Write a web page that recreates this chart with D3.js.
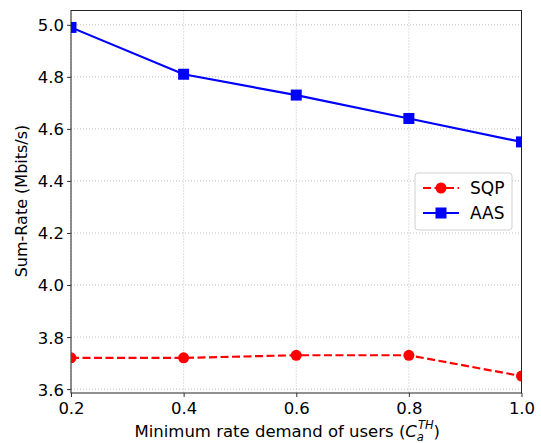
<!DOCTYPE html>
<html>
<head>
<meta charset="utf-8">
<script src="https://cdn.jsdelivr.net/npm/d3@7"></script>
<style>
  body { margin: 0; background: #fff; }
  text { font-family: "DejaVu Sans", sans-serif; fill: #000; }
</style>
</head>
<body>
<svg id="chart" width="541" height="443"></svg>
<script>
// chart data
var xValues = [0.2, 0.4, 0.6, 0.8, 1.0];
var sqp = [3.72, 3.72, 3.73, 3.73, 3.65];
var aas = [4.99, 4.81, 4.73, 4.64, 4.55];
var xTicks = [0.2, 0.4, 0.6, 0.8, 1.0];
var yTicks = [3.6, 3.8, 4.0, 4.2, 4.4, 4.6, 4.8, 5.0];

var svg = d3.select("#chart");
var pLeft = 71, pRight = 521.5, pTop = 10.5, pBottom = 393;

var x = d3.scaleLinear().domain([0.2, 1.0]).range([pLeft, pRight]);
var y = d3.scaleLinear().domain([3.585, 5.055]).range([pBottom, pTop]);

// grid
var grid = svg.append("g");
grid.selectAll(".gx").data(xTicks).enter().append("line")
  .attr("x1", function(d){ return x(d); }).attr("x2", function(d){ return x(d); })
  .attr("y1", pTop).attr("y2", pBottom)
  .attr("stroke", "#b0b0b0").attr("stroke-width", 0.8).attr("stroke-dasharray", "1,2");
grid.selectAll(".gy").data(yTicks).enter().append("line")
  .attr("y1", function(d){ return y(d); }).attr("y2", function(d){ return y(d); })
  .attr("x1", pLeft).attr("x2", pRight)
  .attr("stroke", "#b0b0b0").attr("stroke-width", 0.8).attr("stroke-dasharray", "1,2");

// axes
var xAxis = svg.append("g").attr("transform", "translate(0," + pBottom + ")")
  .call(d3.axisBottom(x).tickValues(xTicks).tickFormat(d3.format(".1f")).tickSizeOuter(0).tickSize(4).tickPadding(3));
var yAxis = svg.append("g").attr("transform", "translate(" + pLeft + ",0)")
  .call(d3.axisLeft(y).tickValues(yTicks).tickFormat(d3.format(".1f")).tickSizeOuter(0).tickSize(4).tickPadding(3));
[xAxis, yAxis].forEach(function(a){
  a.select(".domain").remove();
  a.selectAll("text").style("font-size", "16.5px").attr("fill", "#000");
  a.selectAll("line").attr("stroke", "#333");
});
xAxis.selectAll("text").attr("dy", "0.85em");
yAxis.selectAll("text").attr("dy", "0.36em");

// frame
svg.append("rect").attr("x", pLeft).attr("y", pTop)
  .attr("width", pRight - pLeft).attr("height", pBottom - pTop)
  .attr("fill", "none").attr("stroke", "#222").attr("stroke-width", 1);

// lines
svg.append("clipPath").attr("id", "clip").append("rect")
  .attr("x", pLeft).attr("y", pTop).attr("width", pRight - pLeft).attr("height", pBottom - pTop);
var plot = svg.append("g").attr("clip-path", "url(#clip)");

var line = d3.line().x(function(d, i){ return x(xValues[i]); }).y(function(d){ return y(d); });

plot.append("path").datum(sqp).attr("d", line)
  .attr("fill", "none").attr("stroke", "red").attr("stroke-width", 2.2).attr("stroke-dasharray", "8,3.5");
plot.selectAll(".sqp").data(sqp).enter().append("circle")
  .attr("cx", function(d, i){ return x(xValues[i]); }).attr("cy", function(d){ return y(d); })
  .attr("r", 5.5).attr("fill", "red");

plot.append("path").datum(aas).attr("d", line)
  .attr("fill", "none").attr("stroke", "blue").attr("stroke-width", 2.2);
plot.selectAll(".aas").data(aas).enter().append("rect")
  .attr("x", function(d, i){ return x(xValues[i]) - 5.5; }).attr("y", function(d){ return y(d) - 5.5; })
  .attr("width", 11).attr("height", 11).attr("fill", "blue");

// legend
var lg = svg.append("g").attr("transform", "translate(415,173)");
lg.append("rect").attr("width", 97).attr("height", 57).attr("rx", 3)
  .attr("fill", "#fff").attr("fill-opacity", 0.8).attr("stroke", "#d0d0d0");
lg.append("line").attr("x1", 8).attr("x2", 44).attr("y1", 15).attr("y2", 15)
  .attr("stroke", "red").attr("stroke-width", 2.2).attr("stroke-dasharray", "8,3.5");
lg.append("circle").attr("cx", 26).attr("cy", 15).attr("r", 5.5).attr("fill", "red");
lg.append("text").attr("x", 55).attr("y", 21).style("font-size", "17px").text("SQP");
lg.append("line").attr("x1", 8).attr("x2", 44).attr("y1", 40).attr("y2", 40)
  .attr("stroke", "blue").attr("stroke-width", 2.2);
lg.append("rect").attr("x", 20.5).attr("y", 34.5).attr("width", 11).attr("height", 11).attr("fill", "blue");
lg.append("text").attr("x", 55).attr("y", 46).style("font-size", "17px").text("AAS");

// axis labels
var xl = svg.append("text").attr("x", (pLeft + pRight) / 2 - 9).attr("y", 437)
  .attr("text-anchor", "middle").style("font-size", "16.5px");
xl.append("tspan").text("Minimum rate demand of users (");
xl.append("tspan").style("font-style", "italic").text("C");
xl.append("tspan").style("font-style", "italic").style("font-size", "11.5px").attr("dy", 4).text("a");
xl.append("tspan").style("font-style", "italic").style("font-size", "11.5px").attr("dx", -6).attr("dy", -12).text("TH");
xl.append("tspan").attr("dy", 8).text(")");

svg.append("text").attr("transform", "translate(27," + 201 + ") rotate(-90)")
  .attr("text-anchor", "middle").style("font-size", "16px").text("Sum-Rate (Mbits/s)");
</script>
</body>
</html>
